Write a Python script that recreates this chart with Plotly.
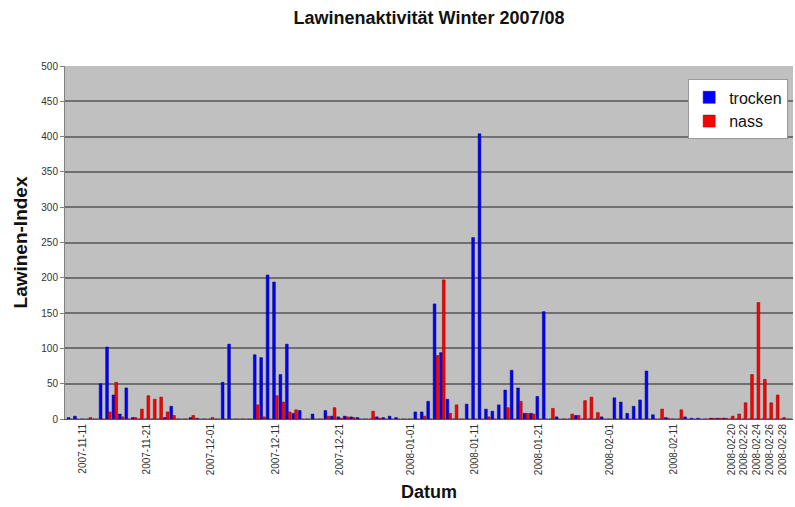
import pandas as pd
import plotly.graph_objects as go

# Daily dates 2007-11-09 .. 2008-02-29
start_date = "2007-11-09"
end_date = "2008-02-29"

# trocken (dry) values per day, month blocks
trocken_nov = [2, 4, 0, 0, 0, 50, 102, 34, 7, 44, 2, 0, 0, 0, 0, 2, 18, 0, 0, 2, 1, 0]          # 09..30
trocken_dec = [0, 0, 52, 106, 0, 0, 0, 91, 87, 204, 194, 63, 106, 8, 12, 0, 7, 0, 12, 4,
               3, 4, 3, 2, 0, 0, 3, 2, 4, 2, 0]                                                   # 01..31
trocken_jan = [0, 10, 10, 25, 163, 94, 28, 0, 0, 21, 257, 404, 14, 11, 20, 41, 69, 44, 8, 8,
               32, 152, 0, 3, 0, 0, 5, 0, 0, 0, 3]                                                # 01..31
trocken_feb = [0, 30, 24, 8, 18, 27, 68, 6, 0, 2, 0, 0, 3, 1, 1, 0, 1, 1, 1, 0,
               0, 0, 0, 0, 0, 0, 0, 0, 0]                                                         # 01..29

# nass (wet) values per day
nass_nov = [0, 0, 0, 2, 0, 0, 10, 52, 3, 0, 2, 14, 33, 28, 31, 10, 5, 0, 0, 5, 0, 0]
nass_dec = [2, 0, 0, 0, 0, 0, 0, 20, 3, 0, 33, 24, 10, 13, 0, 0, 0, 0, 4, 16,
            1, 3, 2, 0, 0, 11, 1, 0, 0, 0, 0]
nass_jan = [0, 0, 4, 0, 90, 197, 8, 20, 0, 0, 0, 0, 3, 0, 0, 16, 0, 25, 8, 7,
            0, 0, 15, 0, 0, 7, 5, 26, 31, 9, 0]
nass_feb = [0, 0, 0, 0, 0, 0, 0, 0, 14, 1, 0, 13, 0, 0, 0, 0, 1, 1, 1, 4,
            7, 23, 63, 165, 56, 23, 34, 2, 0]

tick_dates = ["2007-11-11", "2007-11-21", "2007-12-01", "2007-12-11", "2007-12-21",
              "2008-01-01", "2008-01-11", "2008-01-21", "2008-02-01", "2008-02-11",
              "2008-02-20", "2008-02-22", "2008-02-24", "2008-02-26", "2008-02-28"]

dates = pd.date_range(start_date, end_date, freq="D")
trocken = trocken_nov + trocken_dec + trocken_jan + trocken_feb
nass = nass_nov + nass_dec + nass_jan + nass_feb

fig = go.Figure()
fig.add_trace(go.Bar(x=dates, y=trocken, name="trocken",
                     marker=dict(color="#0000FF", line=dict(color="#000080", width=0.5))))
fig.add_trace(go.Bar(x=dates, y=nass, name="nass",
                     marker=dict(color="#FF0000", line=dict(color="#800000", width=0.5))))

font_family = "Arial, Liberation Sans, sans-serif"

fig.update_layout(
    width=795, height=507,
    margin=dict(l=65, r=2, t=66, b=88),
    paper_bgcolor="white",
    plot_bgcolor="#C0C0C0",
    barmode="group",
    bargap=0.14,
    bargroupgap=0.0,
    font=dict(family=font_family, color="#222222"),
    title=dict(text="<b>Lawinenaktivität Winter 2007/08</b>",
               x=0.5, xref="paper", y=0.9645, yref="container", yanchor="middle",
               font=dict(size=18, color="#111111")),
    legend=dict(x=0.856, y=0.962, xanchor="left", yanchor="top",
                bgcolor="white", bordercolor="#999999", borderwidth=1,
                font=dict(size=16, color="#111111"), tracegroupgap=0,
                itemwidth=30),
    showlegend=True,
)

fig.update_xaxes(
    type="date",
    range=["2007-11-08 05:45", "2008-02-29 14:24"],
    tickmode="array",
    tickvals=tick_dates,
    ticktext=tick_dates,
    tickangle=-90,
    tickfont=dict(size=10, color="#333333"),
    showgrid=False,
    showline=True, linecolor="#555555", linewidth=1,
    ticks="", zeroline=False,
    title=dict(text="<b>Datum</b>", font=dict(size=18, color="#111111"), standoff=11),
)

fig.update_yaxes(
    range=[0, 500],
    dtick=50,
    tickfont=dict(size=10, color="#333333"),
    showgrid=True, gridcolor="#707070", gridwidth=1.5,
    showline=True, linecolor="#808080", linewidth=1,
    ticks="outside", ticklen=4, tickcolor="#808080",
    zeroline=False,
    title=dict(text="<b>Lawinen-Index</b>", font=dict(size=19, color="#111111"), standoff=8),
)

fig.write_html("out.html", config={"displayModeBar": False},
               post_script="document.body.style.margin='0';")
